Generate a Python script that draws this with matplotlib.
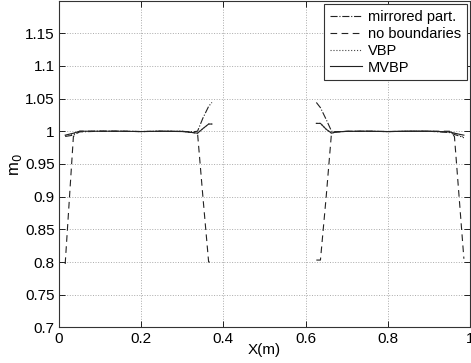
import numpy as np
import matplotlib
matplotlib.use("Agg")
import matplotlib.pyplot as plt

plt.rcParams['font.family'] = ['Liberation Sans', 'DejaVu Sans']

# Left part of the domain
x_left = [0.015, 0.035, 0.05, 0.1, 0.15, 0.2, 0.25, 0.3, 0.325, 0.337, 0.35, 0.364, 0.372]
mirrored_left = [0.992, 0.994, 0.999, 1.0, 1.0, 0.9995, 1.0, 0.9998, 0.999, 1.0, 1.02, 1.038, 1.044]
noboundary_left = [0.797, 0.992, 1.0, 1.0, 1.0, 0.9995, 1.0, 0.9998, 0.998, 0.997, 0.9, 0.8, 0.8]
vbp_left = [0.993, 0.996, 0.9995, 1.0, 1.0, 0.9995, 1.0, 0.9998, 0.998, 0.997, 1.004, 1.011, 1.011]
mvbp_left = [0.994, 0.997, 1.0, 1.0, 1.0, 0.9995, 1.0, 0.9995, 0.998, 0.997, 1.004, 1.011, 1.011]

# Right part of the domain
x_right = [0.626, 0.636, 0.65, 0.663, 0.675, 0.7, 0.75, 0.8, 0.85, 0.9, 0.95, 0.962, 0.977, 0.985]
mirrored_right = [1.044, 1.036, 1.018, 1.0, 0.999, 0.9998, 1.0, 0.9995, 1.0, 1.0, 0.998, 0.995, 0.992, 0.99]
noboundary_right = [0.803, 0.803, 0.9, 0.998, 0.999, 0.9998, 1.0, 0.9995, 1.0, 1.0, 1.0, 0.992, 0.87, 0.805]
vbp_right = [1.012, 1.012, 1.003, 0.997, 0.999, 0.9998, 1.0, 0.9995, 1.0, 1.0, 0.999, 0.997, 0.994, 0.99]
mvbp_right = [1.012, 1.012, 1.003, 0.997, 0.999, 0.9998, 1.0, 0.9995, 1.0, 1.0, 0.999, 0.997, 0.995, 0.994]

fig = plt.figure(figsize=(4.71, 3.63), dpi=100)
ax = fig.add_axes([0.1253, 0.098, 0.8727, 0.899])

lw = 0.8
ax.plot(x_left, mirrored_left, '-.', color='#222222', lw=lw, label='mirrored part.')
ax.plot(x_left, noboundary_left, color='#222222', lw=lw, dashes=(6, 4), label='no boundaries')
ax.plot(x_left, vbp_left, ':', color='#444444', lw=lw, label='VBP')
ax.plot(x_left, mvbp_left, '-', color='#222222', lw=lw, label='MVBP')
ax.plot(x_right, mirrored_right, '-.', color='#222222', lw=lw)
ax.plot(x_right, noboundary_right, color='#222222', lw=lw, dashes=(6, 4))
ax.plot(x_right, vbp_right, ':', color='#444444', lw=lw)
ax.plot(x_right, mvbp_right, '-', color='#222222', lw=lw)

ax.set_xlim(0, 1)
ax.set_ylim(0.7, 1.199)
ax.set_xticks([0, 0.2, 0.4, 0.6, 0.8, 1])
ax.set_xticklabels(['0', '0.2', '0.4', '0.6', '0.8', '1'])
ax.set_yticks([0.7, 0.75, 0.8, 0.85, 0.9, 0.95, 1.0, 1.05, 1.1, 1.15])
ax.set_yticklabels(['0.7', '0.75', '0.8', '0.85', '0.9', '0.95', '1', '1.05', '1.1', '1.15'])
ax.tick_params(direction='in', top=True, right=True, labelsize=11, length=4, width=0.6, pad=3)
ax.grid(True, linestyle=':', color='#aaaaaa', linewidth=0.7)
for s in ax.spines.values():
    s.set_linewidth(0.8)
    s.set_color('#333333')

ax.set_xlabel('X(m)', fontsize=11, labelpad=-2)
ax.set_ylabel('m$_0$', fontsize=12, labelpad=1)

leg = ax.legend(loc='upper right', fontsize=10.5, frameon=True, fancybox=False,
                edgecolor='#333333', framealpha=1, handlelength=2.2,
                borderpad=0.4, labelspacing=0.2, handletextpad=0.4,
                borderaxespad=0.2)
leg.get_frame().set_linewidth(0.8)

fig.savefig('out.png', dpi=100)
